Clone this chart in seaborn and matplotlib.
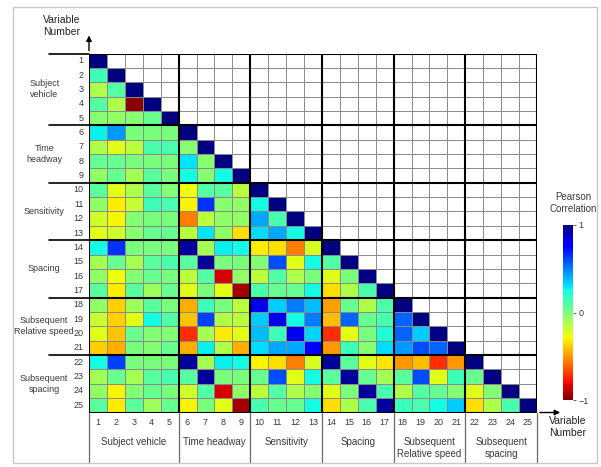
import numpy as np
import pandas as pd
import seaborn as sns
import matplotlib.pyplot as plt
from matplotlib.patches import Rectangle

# lower triangle of the correlation matrix, row i holds columns 1..i-1
r2 = [0.15]
r3 = [-0.12, 0.10]
r4 = [0.10, -0.12, -0.97]
r5 = [-0.03, -0.05, -0.03, 0.05]
r6 = [0.28, 0.45, 0.00, 0.00, 0.00]
r7 = [-0.12, -0.25, -0.15, 0.12, 0.12, -0.03]
r8 = [0.05, 0.05, 0.00, 0.00, 0.00, 0.30, -0.03]
r9 = [-0.05, 0.05, -0.10, 0.08, 0.00, 0.25, -0.03, 0.25]
r10 = [0.08, -0.25, -0.12, 0.08, -0.02, -0.28, 0.10, 0.08, -0.15]
r11 = [-0.05, -0.32, -0.18, 0.15, 0.12, -0.30, 0.65, -0.03, -0.05, 0.25]
r12 = [-0.20, -0.30, -0.02, 0.00, 0.00, -0.55, -0.15, -0.05, -0.05, 0.42, 0.12]
r13 = [-0.25, -0.20, -0.03, 0.05, 0.05, -0.15, 0.30, -0.05, -0.35, 0.32, 0.42, 0.25]
r14 = [0.25, 0.65, 0.00, 0.00, 0.00, 0.95, -0.10, 0.28, 0.25, -0.32, -0.35, -0.55, -0.22]
r15 = [-0.10, 0.05, -0.10, 0.08, 0.12, 0.08, 0.95, 0.00, 0.00, -0.02, 0.60, -0.25, 0.25, 0.10]
r16 = [-0.05, -0.28, -0.02, 0.05, 0.00, -0.15, 0.10, -0.85, -0.05, -0.15, 0.10, -0.12, 0.00,
       -0.25, 0.00]
r17 = [0.08, -0.32, 0.08, -0.08, 0.05, -0.25, 0.00, -0.25, -0.93, 0.12, 0.05, 0.05, 0.25,
       -0.35, -0.12, 0.12]
r18 = [-0.05, -0.38, -0.08, 0.08, 0.00, -0.45, 0.15, 0.00, -0.15, 0.80, 0.35, 0.50, 0.38,
       -0.48, 0.05, -0.12, 0.12]
r19 = [-0.18, -0.38, -0.25, 0.25, 0.10, -0.40, 0.62, -0.12, -0.15, 0.35, 0.80, 0.25, 0.50,
       -0.42, 0.55, 0.05, 0.12, 0.55]
r20 = [-0.25, -0.40, 0.05, -0.02, -0.02, -0.72, -0.10, -0.32, -0.25, 0.38, 0.15, 0.80, 0.33,
       -0.72, -0.25, 0.00, 0.22, 0.55, 0.35]
r21 = [-0.38, -0.45, 0.00, -0.02, 0.05, -0.45, 0.28, -0.12, -0.45, 0.32, 0.42, 0.42, 0.75,
       -0.50, 0.15, -0.03, 0.32, 0.45, 0.60, 0.55]
r22 = [0.25, 0.62, 0.00, 0.00, 0.00, 0.95, -0.10, 0.28, 0.25, -0.30, -0.35, -0.55, -0.22,
       0.95, 0.08, -0.25, -0.33, -0.50, -0.42, -0.72, -0.50]
r23 = [-0.10, 0.05, -0.10, 0.08, 0.12, 0.08, 0.95, 0.00, 0.00, 0.05, 0.60, -0.25, 0.25,
       0.08, 0.95, 0.05, -0.10, 0.08, 0.60, -0.25, 0.15, 0.05]
r24 = [-0.05, -0.30, -0.02, 0.05, 0.00, -0.20, 0.10, -0.85, -0.05, -0.15, 0.10, -0.12, -0.02,
       -0.25, 0.00, 0.95, 0.12, -0.12, 0.10, 0.05, -0.02, -0.25, -0.02]
r25 = [0.08, -0.32, 0.08, -0.08, 0.05, -0.30, 0.00, -0.25, -0.93, 0.12, 0.05, 0.05, 0.25,
       -0.35, -0.12, 0.12, 0.95, 0.15, 0.12, 0.25, 0.35, -0.35, -0.12, 0.12]

rows = [[], r2, r3, r4, r5, r6, r7, r8, r9, r10, r11, r12, r13, r14, r15, r16, r17, r18,
        r19, r20, r21, r22, r23, r24, r25]

var_numbers = list(range(1, 26))
group_names = ['Subject vehicle', 'Time headway', 'Sensitivity', 'Spacing',
               'Subsequent\nRelative speed', 'Subsequent\nspacing']
row_group_names = ['Subject\nvehicle', 'Time\nheadway', 'Sensitivity', 'Spacing',
                   'Subsequent\nRelative speed', 'Subsequent\nspacing']
group_edges = [0, 5, 9, 13, 17, 21, 25]

n = len(var_numbers)
corr = np.full((n, n), np.nan)
for i, vals in enumerate(rows):
    corr[i, :i] = vals
    corr[i, i] = 1.0
df = pd.DataFrame(corr, index=var_numbers, columns=var_numbers)
mask = np.triu(np.ones((n, n), dtype=bool), k=1)

sns.set_style('white')
plt.rcParams['font.family'] = ['Liberation Sans', 'DejaVu Sans']
txt = '#3a3a3a'

W, H = 601, 467
fig = plt.figure(figsize=(W / 100, H / 100), dpi=100)
ax = fig.add_axes([89 / W, 1 - 412.5 / H, 448 / W, 359 / H])
cax = fig.add_axes([563 / W, 1 - 400 / H, 10 / W, 175 / H])

sns.heatmap(df, mask=mask, cmap='jet_r', vmin=-1, vmax=1, ax=ax, cbar_ax=cax,
            cbar_kws={'ticks': [-1, 0, 1]})

# cell grid
for k in range(n + 1):
    ax.axhline(k, color='#8a8a8a', lw=0.7, zorder=3)
    ax.axvline(k, color='#8a8a8a', lw=0.7, zorder=3)
for k in group_edges:
    ax.axhline(k, color='black', lw=1.5, zorder=4)
    ax.axvline(k, color='black', lw=1.5, zorder=4)

# separators outside the grid
for k in group_edges[:-1]:
    ax.plot([-2.25, 0], [k, k], color='black', lw=1.2, clip_on=False)
for k in group_edges:
    ax.plot([k, k], [25, 28.45], color='#6a6a6a', lw=0.9, clip_on=False)

# axis arrows
ax.annotate('', xy=(0, -1.45), xytext=(0, 0), annotation_clip=False,
            arrowprops=dict(arrowstyle='-|>', color='black', lw=1, mutation_scale=8))
ax.annotate('', xy=(26.45, 25), xytext=(25, 25), annotation_clip=False,
            arrowprops=dict(arrowstyle='-|>', color='black', lw=1, mutation_scale=8))

ax.set_xticks(np.arange(n) + 0.5)
ax.set_xticklabels(var_numbers, rotation=0, fontsize=6.5, color=txt)
ax.set_yticks(np.arange(n) + 0.5)
ax.set_yticklabels(var_numbers, rotation=0, fontsize=6.5, color=txt)
ax.tick_params(length=0, pad=4)
ax.set_xlabel('')
ax.set_ylabel('')

for g, name in enumerate(group_names):
    xc = (group_edges[g] + group_edges[g + 1]) / 2
    ax.text(xc, 26.7, name, ha='center', va='top', fontsize=7, color=txt, linespacing=1.25)
for g, name in enumerate(row_group_names):
    yc = (group_edges[g] + group_edges[g + 1]) / 2
    ax.text(-2.5, yc, name, ha='center', va='center', fontsize=6.5, color=txt, linespacing=1.3)

ax.text(-1.55, -1.9, 'Variable\nNumber', ha='center', va='center', fontsize=7.5,
        color='#222222', linespacing=1.2)
ax.text(26.7, 26.0, 'Variable\nNumber', ha='center', va='center', fontsize=7.5,
        color='#222222', linespacing=1.2)

cax.set_yticklabels(['\u22121', '0', '1'], fontsize=6.5, color=txt)
cax.tick_params(length=2, width=0.5, pad=2)
fig.text(573 / W, 1 - 203 / H, 'Pearson\nCorrelation', ha='center', va='center',
         fontsize=7, color=txt, linespacing=1.2)

fig.patches.append(Rectangle((13 / W, 1 - 463 / H), 584 / W, 456 / H, transform=fig.transFigure,
                             fill=False, edgecolor='#c8c8c8', lw=1))

fig.savefig('out.png', dpi=100)
